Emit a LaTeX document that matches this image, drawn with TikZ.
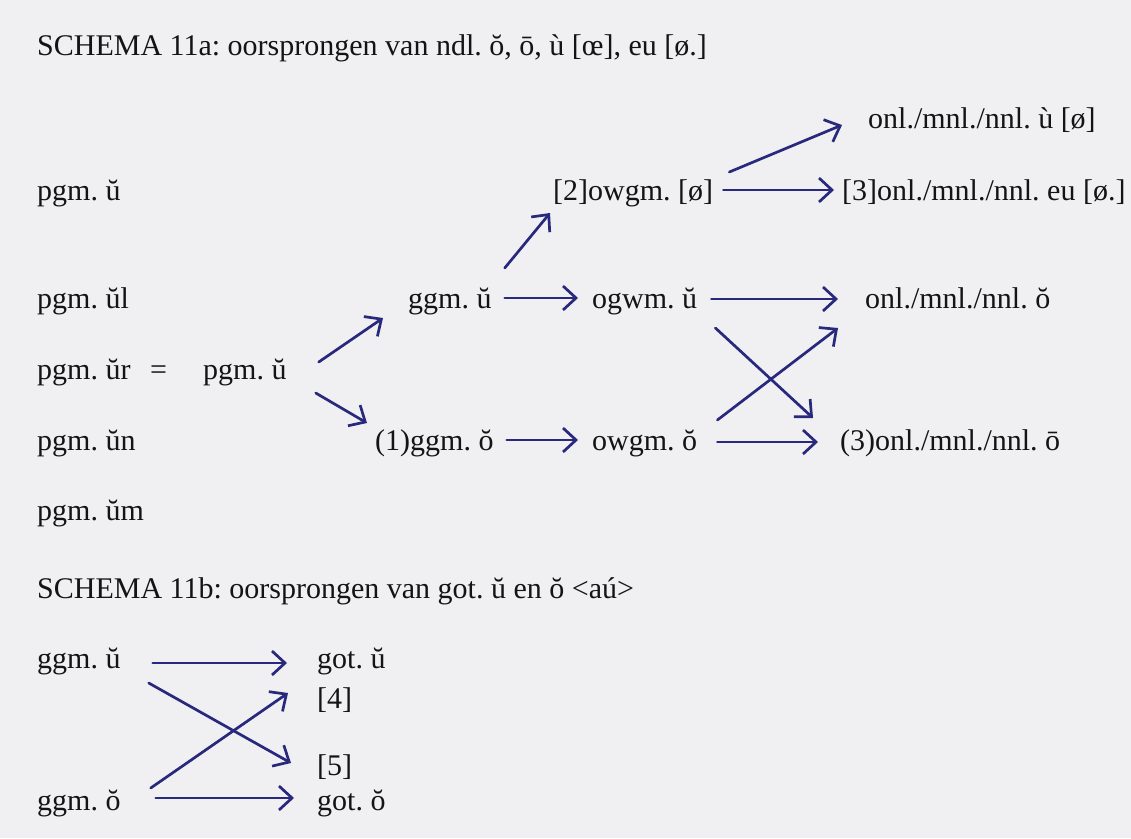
\documentclass[tikz,border=0pt]{standalone}
\usepackage{fontspec}
\setmainfont{Liberation Serif}
\usepackage{tikz}
\usetikzlibrary{arrows.meta}
\definecolor{paper}{RGB}{240,240,242}
\definecolor{ink}{RGB}{20,20,20}
\definecolor{pen}{RGB}{40,40,125}
\frenchspacing

\begin{document}
\begin{tikzpicture}[x=1pt,y=-1pt,font=\fontsize{30}{36}\selectfont,
  txt/.style={anchor=base west,inner sep=0pt,text=ink},
  hand/.style={-{Straight Barb[length=13pt,width=24pt]},line width=2.7pt,draw=pen,line cap=round}]

\useasboundingbox (0,0) rectangle (1131,838);
\fill[paper] (0,0) rectangle (1131,838);

\node[txt] (titleA) at (37,55) {SCHEMA 11a: oorsprongen van ndl. ŏ, ō, ù [œ], eu [ø.]};

\node[txt] (onlu)   at (868,128) {onl./mnl./nnl. ù [ø]};
\node[txt] (pgmu)   at (37,200)  {pgm. ŭ};
\node[txt] (owgmoe) at (553,200) {[2]owgm. [ø]};
\node[txt] (onleu)  at (842,200) {[3]onl./mnl./nnl. eu [ø.]};

\node[txt] (pgmul)  at (37,308)  {pgm. ŭl};
\node[txt] (ggmu)   at (408,308) {ggm. ŭ};
\node[txt] (ogwmu)  at (592,308) {ogwm. ŭ};
\node[txt] (onlo)   at (865,308) {onl./mnl./nnl. ŏ};

\node[txt] (pgmur)  at (37,379)  {pgm. ŭr};
\node[txt] (eq)     at (150,379) {=};
\node[txt] (pgmU)   at (203,379) {pgm. ŭ};

\node[txt] (pgmun)  at (37,450)  {pgm. ŭn};
\node[txt] (ggmo)   at (375,450) {(1)ggm. ŏ};
\node[txt] (owgmo)  at (592,450) {owgm. ŏ};
\node[txt] (onlob)  at (840,450) {(3)onl./mnl./nnl. ō};

\node[txt] (pgmum)  at (37,520)  {pgm. ŭm};

\node[txt] (titleB) at (37,598) {SCHEMA 11b: oorsprongen van got. ŭ en ŏ \textless aú\textgreater};

\node[txt] (bggmu)  at (37,668)  {ggm. ŭ};
\node[txt] (gotu)   at (317,668) {got. ŭ};
\node[txt] (four)   at (317,708) {[4]};
\node[txt] (five)   at (317,775) {[5]};
\node[txt] (bggmo)  at (37,810)  {ggm. ŏ};
\node[txt] (goto)   at (317,810) {got. ŏ};

\draw[hand] ([shift={(32,-17)}]pgmU.base east) -- ([shift={(-25,10)}]ggmu.base west);
\draw[hand] ([shift={(29,14)}]pgmU.base east) -- ([shift={(-8,-27)}]ggmo.base west);
\draw[hand] ([shift={(13,-40)}]ggmu.base east) -- ([shift={(-3,13)}]owgmoe.base west);
\draw[hand] ([shift={(10,-10)}]owgmoe.base east) -- ([shift={(-8,-10)}]onleu.base west);
\draw[hand] ([shift={(16,-28)}]owgmoe.base east) -- ([shift={(-26,-3)}]onlu.base west);
\draw[hand] ([shift={(13,-10)}]ggmu.base east) -- ([shift={(-14,-10)}]ogwmu.base west);
\draw[hand] ([shift={(13,-10)}]ggmo.base east) -- ([shift={(-14,-10)}]owgmo.base west);
\draw[hand] ([shift={(14,-9)}]ogwmu.base east) -- ([shift={(-27,-9)}]onlo.base west);
\draw[hand] ([shift={(18,20)}]ogwmu.base east) -- ([shift={(-27,-32)}]onlob.base west);
\draw[hand] ([shift={(20,-30)}]owgmo.base east) -- ([shift={(-27,20)}]onlo.base west);
\draw[hand] ([shift={(20,-8)}]owgmo.base east) -- ([shift={(-22,-8)}]onlob.base west);

\draw[hand] ([shift={(32,-5)}]bggmu.base east) -- ([shift={(-30,-5)}]gotu.base west);
\draw[hand] ([shift={(28,15)}]bggmu.base east) -- ([shift={(-26,-12)}]five.base west);
\draw[hand] ([shift={(30,-22)}]bggmo.base east) -- ([shift={(-29,-15)}]four.base west);
\draw[hand] ([shift={(35,-12)}]bggmo.base east) -- ([shift={(-23,-12)}]goto.base west);
\end{tikzpicture}
\end{document}
